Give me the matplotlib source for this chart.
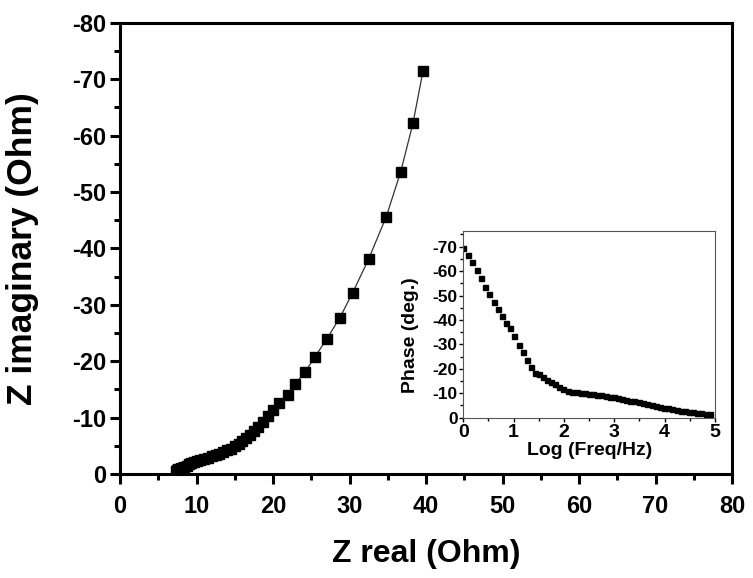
import matplotlib
matplotlib.use("Agg")
import matplotlib.pyplot as plt
from matplotlib.ticker import MultipleLocator

plt.rcParams["font.family"] = ["Liberation Sans", "DejaVu Sans"]
plt.rcParams["font.weight"] = "bold"
plt.rcParams["axes.unicode_minus"] = False

# Nyquist data (Z real, -Z imaginary), Ohm
z_real = [39.6, 38.3, 36.7, 34.8, 32.5, 30.4, 28.7, 27.0, 25.5, 24.2,
          22.9, 21.9, 20.8, 20.0, 19.3, 18.7, 18.1, 17.5, 17.0, 16.5,
          16.0, 15.5, 15.0, 14.5, 14.0, 13.5, 13.0, 12.5, 12.0, 11.5,
          11.0, 10.5, 10.1, 9.7, 9.3, 9.0, 8.7, 8.4, 8.2, 8.0,
          7.8, 7.6, 7.5, 7.4, 7.3]
z_imag = [-71.4, -62.2, -53.6, -45.6, -38.1, -32.1, -27.6, -23.9, -20.8, -18.1,
          -16.0, -14.0, -12.5, -11.3, -10.2, -9.3, -8.4, -7.6, -6.9, -6.3,
          -5.8, -5.3, -4.9, -4.5, -4.2, -3.9, -3.6, -3.4, -3.2, -2.9,
          -2.7, -2.5, -2.3, -2.1, -1.9, -1.7, -1.5, -1.3, -1.15, -1.0,
          -0.9, -0.8, -0.7, -0.6, -0.5]

# Bode phase data for the inset
log_freq = [0.0, 0.09, 0.18, 0.27, 0.35, 0.44, 0.52, 0.60, 0.68, 0.77,
            0.85, 0.93, 1.00, 1.10, 1.18, 1.26, 1.34, 1.42, 1.51, 1.59,
            1.67, 1.75, 1.83, 1.91, 1.99, 2.08, 2.16, 2.25, 2.33, 2.41,
            2.49, 2.58, 2.66, 2.74, 2.83, 2.91, 2.99, 3.07, 3.16, 3.24,
            3.32, 3.40, 3.49, 3.57, 3.65, 3.74, 3.82, 3.90, 3.99, 4.07,
            4.15, 4.24, 4.32, 4.40, 4.48, 4.57, 4.65, 4.73, 4.82, 4.90]
phase = [-69.6, -66.6, -63.6, -60.4, -57.0, -53.6, -50.5, -47.5, -44.5, -41.7,
         -38.6, -36.6, -33.6, -29.7, -26.7, -23.6, -20.9, -18.4, -17.9, -16.8,
         -15.4, -14.5, -13.6, -12.7, -11.7, -11.0, -10.7, -10.4, -10.2, -10.0,
         -9.8, -9.6, -9.3, -9.1, -8.9, -8.6, -8.3, -8.0, -7.7, -7.4,
         -7.0, -6.7, -6.3, -5.9, -5.5, -5.1, -4.7, -4.4, -4.1, -3.8,
         -3.4, -3.1, -2.9, -2.6, -2.4, -2.2, -2.0, -1.8, -1.6, -1.4]

fig = plt.figure(figsize=(7.53, 5.78), dpi=100)
ax = fig.add_axes([120 / 753, 1 - 474 / 578, 612 / 753, 451.3 / 578])

ax.plot(z_real, z_imag, color="#333333", lw=0.9, marker="s", ms=7.5,
        mfc="black", mec="black")
ax.set_xlim(0, 80)
ax.set_ylim(0, -80)
ax.xaxis.set_major_locator(MultipleLocator(10))
ax.xaxis.set_minor_locator(MultipleLocator(5))
ax.yaxis.set_major_locator(MultipleLocator(10))
ax.yaxis.set_minor_locator(MultipleLocator(5))
for s in ax.spines.values():
    s.set_linewidth(2.2)
ax.tick_params(which="major", direction="out", length=7, width=2.2, labelsize=17)
ax.tick_params(which="minor", direction="out", length=4, width=2.2)
ax.tick_params(axis="x", which="major", pad=8)
ax.tick_params(axis="y", which="major", pad=3)
for lab in ax.get_xticklabels() + ax.get_yticklabels():
    lab.set_fontweight("bold")

ax.set_xlabel("Z real (Ohm)", fontsize=23, fontweight="bold")
ax.set_ylabel("Z imaginary (Ohm)", fontsize=25.5, fontweight="bold")
ax.xaxis.set_label_coords(0.5, -0.145)
ax.yaxis.set_label_coords(-0.132, 0.5)

# inset
ins = fig.add_axes([463.3 / 753, 1 - 417.7 / 578, 251.7 / 753, 186.7 / 578])
ins.plot(log_freq, phase, ls="none", marker="s", ms=3.6, color="black")
ins.set_xlim(0, 5)
ins.set_ylim(0, -76.4)
ins.xaxis.set_major_locator(MultipleLocator(1))
ins.xaxis.set_minor_locator(MultipleLocator(0.5))
ins.yaxis.set_major_locator(MultipleLocator(10))
ins.yaxis.set_minor_locator(MultipleLocator(5))
for s in ins.spines.values():
    s.set_linewidth(0.8)
    s.set_color("#555555")
ins.tick_params(which="major", direction="out", length=3, width=1)
ins.tick_params(which="minor", direction="out", length=2, width=1)
ins.tick_params(axis="x", labelsize=14, pad=1.5)
ins.tick_params(axis="y", labelsize=12.5, pad=1)
for lab in ins.get_xticklabels() + ins.get_yticklabels():
    lab.set_fontweight("bold")
ins.set_xlabel("Log (Freq/Hz)", fontsize=14, fontweight="bold")
ins.set_ylabel("Phase (deg.)", fontsize=14, fontweight="bold")
ins.xaxis.set_label_coords(0.5, -0.128)
ins.yaxis.set_label_coords(-0.175, 0.443)

fig.savefig("out.png", dpi=100)
